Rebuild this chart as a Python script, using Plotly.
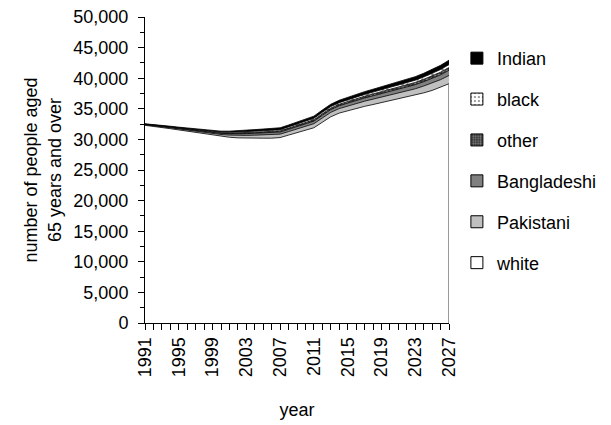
import plotly.graph_objects as go

years = list(range(1991, 2028))

white = [32300, 32150, 31950, 31750, 31550, 31350, 31150, 30950, 30700, 30500,
         30350, 30250, 30200, 30200, 30200, 30200, 30300, 30700, 31100, 31500,
         31900, 32800, 33700, 34300, 34700, 35100, 35400, 35700, 36000, 36300,
         36600, 36900, 37200, 37600, 38000, 38500, 39100]
pakistani = [90, 105, 120, 140, 160, 175, 190, 210, 245, 300,
             350, 400, 455, 490, 525, 545, 560, 580, 595, 630,
             665, 700, 720, 735, 770, 805, 840, 875, 910, 945,
             980, 1015, 1070, 1120, 1190, 1260, 1350]
bangladeshi = [50, 65, 75, 85, 95, 110, 120, 130, 155, 185,
               220, 255, 285, 310, 330, 340, 350, 365, 375, 395,
               420, 440, 450, 460, 485, 505, 530, 550, 570, 595,
               615, 640, 670, 705, 750, 790, 845]
other = [30, 35, 40, 50, 55, 60, 65, 70, 85, 100,
         120, 140, 155, 170, 180, 185, 190, 200, 205, 215,
         230, 240, 245, 250, 265, 275, 290, 300, 310, 325,
         335, 350, 365, 385, 410, 430, 460]
black = [30, 35, 45, 50, 55, 60, 70, 75, 85, 105,
         120, 140, 160, 170, 180, 185, 195, 200, 205, 220,
         230, 240, 250, 255, 265, 280, 290, 300, 315, 325,
         340, 350, 370, 385, 410, 435, 465]
indian = [50, 60, 70, 75, 85, 95, 105, 115, 130, 160,
          190, 215, 245, 260, 285, 295, 305, 305, 320, 340,
          355, 380, 385, 400, 415, 435, 450, 475, 495, 510,
          530, 545, 575, 605, 640, 685, 730]

label_years = [1991, 1995, 1999, 2003, 2007, 2011, 2015, 2019, 2023, 2027]

FONT = "Liberation Sans, Arial, sans-serif"

series = [
    ("white", white, dict(fillcolor="#FFFFFF"), dict(color="#FFFFFF")),
    ("Pakistani", pakistani, dict(fillcolor="#C0C0C0"), dict(color="#C0C0C0")),
    ("Bangladeshi", bangladeshi, dict(fillcolor="#808080"), dict(color="#808080")),
    ("other", other,
     dict(fillpattern=dict(shape=".", bgcolor="#303030", fgcolor="#C8C8C8", size=4, solidity=0.45)),
     dict(color="#303030", pattern=dict(shape=".", bgcolor="#303030", fgcolor="#C8C8C8", size=3, solidity=0.45))),
    ("black", black,
     dict(fillpattern=dict(shape=".", bgcolor="#FFFFFF", fgcolor="#000000", size=5, solidity=0.2)),
     dict(color="#FFFFFF", pattern=dict(shape=".", bgcolor="#FFFFFF", fgcolor="#000000", size=5, solidity=0.2))),
    ("Indian", indian, dict(fillcolor="#000000"), dict(color="#000000")),
]

fig = go.Figure()

for name, vals, fillspec, _ in series:
    fig.add_trace(go.Scatter(
        x=years, y=vals, name=name, stackgroup="one", mode="lines",
        line=dict(color="#000000", width=0.8), showlegend=False,
        hoverinfo="skip", **fillspec))

# right edge of the white area
fig.add_trace(go.Scatter(x=[years[-1], years[-1]], y=[0, white[-1]], mode="lines",
                         line=dict(color="#808080", width=1.6), showlegend=False,
                         hoverinfo="skip"))

# legend entries (square swatches)
for name, vals, _, marker in reversed(series):
    fig.add_trace(go.Bar(x=[None], y=[None], name=name, legendgroup=name,
                         marker=dict(line=dict(color="#000000", width=1), **marker)))

fig.update_layout(
    width=611, height=425,
    margin=dict(l=137, r=170, t=9, b=110, autoexpand=False),
    paper_bgcolor="white", plot_bgcolor="white",
    font=dict(family=FONT, size=18, color="#000000"),
    showlegend=True,
    legend=dict(x=1.026, xanchor="left", y=0.925, yanchor="top",
                traceorder="grouped", tracegroupgap=14.5,
                font=dict(family=FONT, size=18, color="#000000"),
                bgcolor="rgba(0,0,0,0)", itemwidth=30),
    xaxis=dict(
        range=[1991, 2027], tickmode="array", tickvals=label_years,
        ticktext=[str(y) for y in label_years], tickangle=-90,
        ticks="outside", ticklen=6, tickcolor="#000000", tickwidth=1,
        minor=dict(dtick=1, tick0=1991, ticks="outside", ticklen=6, tickcolor="#000000", tickwidth=1),
        showline=True, linecolor="#000000", linewidth=1, showgrid=False, zeroline=False,
        tickfont=dict(family=FONT, size=18), automargin=False, ticklabeloverflow="allow",
        title=dict(text="year", font=dict(family=FONT, size=18), standoff=27),
    ),
    yaxis=dict(
        range=[0, 50000], dtick=5000, tickformat=",",
        ticks="outside", ticklen=6, tickcolor="#000000", tickwidth=1,
        minor=dict(dtick=2500, ticks="outside", ticklen=4, tickcolor="#000000", tickwidth=1),
        showline=True, linecolor="#000000", linewidth=1, showgrid=False, zeroline=False,
        tickfont=dict(family=FONT, size=18), ticklabelstandoff=6, automargin=False,
        ticklabeloverflow="allow",
        title=dict(text="number of people aged<br>65 years and over",
                   font=dict(family=FONT, size=18), standoff=7),
    ),
)

fig.write_html("out.html")
